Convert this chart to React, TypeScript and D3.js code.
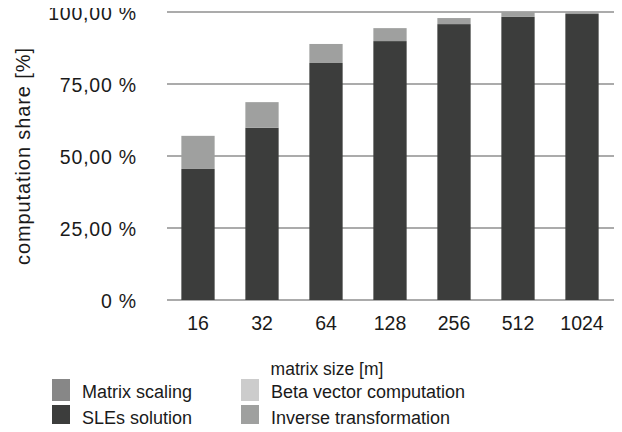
import React, { useEffect, useRef } from 'react';
import * as d3 from 'd3';

const sizes = ['16', '32', '64', '128', '256', '512', '1024'];
const matrixScaling = [0, 0, 0, 0, 0, 0, 0];
const slesSolution = [45.5, 59.8, 82.3, 89.9, 95.8, 98.3, 99.3];
const betaVector = [0, 0, 0, 0, 0, 0, 0];
const inverseTransform = [11.5, 8.9, 6.6, 4.5, 2.1, 1.7, 0.5];
const yTicks = [0, 25, 50, 75, 100];

const seriesNames = ['Matrix scaling', 'SLEs solution', 'Beta vector computation', 'Inverse transformation'];
const colors = ['#878787', '#3c3d3c', '#cccccc', '#9fa09f'];

const W = 622;
const H = 432;
const FONT = '"Liberation Sans", Arial, Helvetica, sans-serif';

export default function App() {
  const ref = useRef<SVGSVGElement>(null);

  useEffect(() => {
    const svg = d3.select(ref.current);
    svg.selectAll('*').remove();

    const x = d3.scaleBand<string>()
      .domain(sizes)
      .range([166, 614])
      .paddingInner(0.48)
      .paddingOuter(0.24);
    const y = d3.scaleLinear().domain([0, 100]).range([300, 12]);

    // grid
    svg.append('g')
      .selectAll('line')
      .data(yTicks)
      .enter()
      .append('line')
      .attr('x1', 167)
      .attr('x2', 620)
      .attr('y1', (d) => y(d))
      .attr('y2', (d) => y(d))
      .attr('stroke', '#ababab')
      .attr('stroke-width', 2);

    svg.append('g')
      .selectAll('text')
      .data(yTicks)
      .enter()
      .append('text')
      .attr('x', 137)
      .attr('y', (d) => y(d) + 7.5)
      .attr('text-anchor', 'end')
      .attr('font-family', FONT)
      .attr('font-size', 19.5)
      .attr('letter-spacing', 0.8)
      .attr('fill', '#1a1a1a')
      .text((d) => (d === 0 ? '0 %' : `${d},00 %`));

    const rows = sizes.map((s, i) => ({
      size: s,
      a: matrixScaling[i],
      b: slesSolution[i],
      c: betaVector[i],
      d: inverseTransform[i],
    }));
    const stack = d3.stack<any>().keys(['a', 'b', 'c', 'd'])(rows);

    svg.append('g')
      .selectAll('g')
      .data(stack)
      .enter()
      .append('g')
      .attr('fill', (_, i) => colors[i])
      .selectAll('rect')
      .data((d) => d)
      .enter()
      .append('rect')
      .attr('x', (d: any) => x(d.data.size)!)
      .attr('width', x.bandwidth())
      .attr('y', (d) => y(d[1]))
      .attr('height', (d) => y(d[0]) - y(d[1]));

    svg.append('g')
      .selectAll('text')
      .data(sizes)
      .enter()
      .append('text')
      .attr('x', (d) => x(d)! + x.bandwidth() / 2)
      .attr('y', 330)
      .attr('text-anchor', 'middle')
      .attr('font-family', FONT)
      .attr('font-size', 19.5)
      .attr('fill', '#1a1a1a')
      .text((d) => d);

    svg.append('text')
      .attr('x', 327)
      .attr('y', 375)
      .attr('text-anchor', 'middle')
      .attr('font-family', FONT)
      .attr('font-size', 17.5)
      .attr('fill', '#1a1a1a')
      .text('matrix size [m]');

    svg.append('text')
      .attr('transform', 'translate(30,156) rotate(-90)')
      .attr('text-anchor', 'middle')
      .attr('font-family', FONT)
      .attr('font-size', 20)
      .attr('letter-spacing', 0.9)
      .attr('fill', '#1a1a1a')
      .text('computation share [%]');

    // legend: two columns, two rows
    const legendPos = [
      { x: 52, y: 379 },
      { x: 52, y: 405 },
      { x: 241, y: 379 },
      { x: 241, y: 405 },
    ];
    const lg = svg.append('g')
      .selectAll('g')
      .data(seriesNames)
      .enter()
      .append('g')
      .attr('transform', (_, i) => `translate(${legendPos[i].x},${legendPos[i].y})`);
    lg.append('rect')
      .attr('width', 18)
      .attr('height', 22)
      .attr('fill', (_, i) => colors[i]);
    lg.append('text')
      .attr('x', 30)
      .attr('y', 19)
      .attr('font-family', FONT)
      .attr('font-size', 18)
      .attr('fill', '#1a1a1a')
      .text((d) => d);
  }, []);

  return <svg ref={ref} width={W} height={H} style={{ display: 'block', margin: -8 }} />;
}
